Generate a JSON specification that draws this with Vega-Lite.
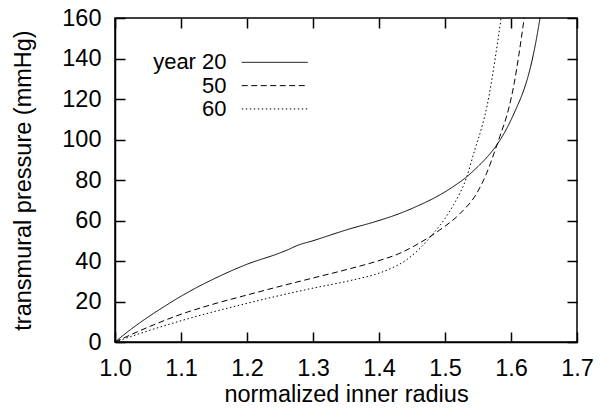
{
  "$schema": "https://vega.github.io/schema/vega-lite/v6.json",
  "width": 462,
  "height": 324,
  "autosize": {"type": "none"},
  "padding": {"left": 115, "top": 18, "right": 25, "bottom": 77},
  "background": "white",
  "config": {
    "view": {"stroke": "black", "strokeWidth": 1.5},
    "font": "Liberation Sans",
    "axis": {
      "grid": false,
      "domainColor": "black",
      "domainWidth": 1.5,
      "tickColor": "black",
      "tickWidth": 1.5,
      "tickSize": -10,
      "labelFlush": false,
      "labelOverlap": false,
      "labelFont": "Liberation Sans",
      "labelFontSize": 23.5,
      "labelColor": "black",
      "titleFont": "Liberation Sans",
      "titleFontSize": 23.5,
      "titleFontWeight": "normal",
      "titleColor": "black"
    }
  },
  "datasets": {
    "curves": [
      {"r": 1.0, "p": 0, "series": "20"},
      {"r": 1.025, "p": 6.5, "series": "20"},
      {"r": 1.05, "p": 12.3, "series": "20"},
      {"r": 1.075, "p": 17.6, "series": "20"},
      {"r": 1.1, "p": 22.6, "series": "20"},
      {"r": 1.15, "p": 31.2, "series": "20"},
      {"r": 1.2, "p": 38.4, "series": "20"},
      {"r": 1.25, "p": 44, "series": "20"},
      {"r": 1.265, "p": 46, "series": "20"},
      {"r": 1.275, "p": 47.5, "series": "20"},
      {"r": 1.3, "p": 50, "series": "20"},
      {"r": 1.35, "p": 55.3, "series": "20"},
      {"r": 1.4, "p": 60, "series": "20"},
      {"r": 1.43, "p": 63.3, "series": "20"},
      {"r": 1.462, "p": 67.7, "series": "20"},
      {"r": 1.492, "p": 72.6, "series": "20"},
      {"r": 1.515, "p": 77.3, "series": "20"},
      {"r": 1.533, "p": 81.6, "series": "20"},
      {"r": 1.55, "p": 86.7, "series": "20"},
      {"r": 1.567, "p": 92.5, "series": "20"},
      {"r": 1.583, "p": 99.5, "series": "20"},
      {"r": 1.596, "p": 107, "series": "20"},
      {"r": 1.608, "p": 115.4, "series": "20"},
      {"r": 1.62, "p": 125, "series": "20"},
      {"r": 1.629, "p": 135, "series": "20"},
      {"r": 1.637, "p": 147, "series": "20"},
      {"r": 1.644, "p": 160, "series": "20"},

      {"r": 1.0, "p": 0, "series": "50"},
      {"r": 1.05, "p": 7.3, "series": "50"},
      {"r": 1.1, "p": 13.7, "series": "50"},
      {"r": 1.15, "p": 18.8, "series": "50"},
      {"r": 1.2, "p": 23.2, "series": "50"},
      {"r": 1.25, "p": 27.5, "series": "50"},
      {"r": 1.3, "p": 31.6, "series": "50"},
      {"r": 1.356, "p": 36.2, "series": "50"},
      {"r": 1.4, "p": 40.2, "series": "50"},
      {"r": 1.43, "p": 43.6, "series": "50"},
      {"r": 1.462, "p": 49, "series": "50"},
      {"r": 1.492, "p": 55.3, "series": "50"},
      {"r": 1.523, "p": 63.5, "series": "50"},
      {"r": 1.548, "p": 73.4, "series": "50"},
      {"r": 1.563, "p": 83.3, "series": "50"},
      {"r": 1.576, "p": 94.8, "series": "50"},
      {"r": 1.583, "p": 101.4, "series": "50"},
      {"r": 1.596, "p": 114.6, "series": "50"},
      {"r": 1.605, "p": 128, "series": "50"},
      {"r": 1.612, "p": 142, "series": "50"},
      {"r": 1.62, "p": 160, "series": "50"},

      {"r": 1.0, "p": 0, "series": "60"},
      {"r": 1.05, "p": 5.5, "series": "60"},
      {"r": 1.1, "p": 10.5, "series": "60"},
      {"r": 1.15, "p": 15, "series": "60"},
      {"r": 1.2, "p": 19.1, "series": "60"},
      {"r": 1.25, "p": 23, "series": "60"},
      {"r": 1.3, "p": 26.6, "series": "60"},
      {"r": 1.356, "p": 30.3, "series": "60"},
      {"r": 1.4, "p": 34, "series": "60"},
      {"r": 1.42, "p": 36.6, "series": "60"},
      {"r": 1.44, "p": 40.2, "series": "60"},
      {"r": 1.462, "p": 46.2, "series": "60"},
      {"r": 1.482, "p": 53.5, "series": "60"},
      {"r": 1.5, "p": 61, "series": "60"},
      {"r": 1.513, "p": 67.8, "series": "60"},
      {"r": 1.533, "p": 81.6, "series": "60"},
      {"r": 1.545, "p": 94.8, "series": "60"},
      {"r": 1.556, "p": 106.3, "series": "60"},
      {"r": 1.564, "p": 117, "series": "60"},
      {"r": 1.576, "p": 140, "series": "60"},
      {"r": 1.585, "p": 160, "series": "60"}
    ],
    "legend": [
      {"label": "year 20", "series": "20", "lx": 1.169, "sx1": 1.192, "sx2": 1.292, "ly": 138.1},
      {"label": "50", "series": "50", "lx": 1.169, "sx1": 1.192, "sx2": 1.292, "ly": 126.6},
      {"label": "60", "series": "60", "lx": 1.169, "sx1": 1.192, "sx2": 1.292, "ly": 115.1}
    ]
  },
  "resolve": {"axis": {"x": "independent", "y": "independent"}},
  "layer": [
    {
      "data": {"name": "curves"},
      "mark": {"type": "line", "clip": true, "strokeWidth": 1, "color": "black", "interpolate": "monotone"},
      "encoding": {
        "x": {
          "field": "r", "type": "quantitative",
          "scale": {"domain": [1.0, 1.7], "nice": false, "zero": false},
          "axis": {"orient": "bottom", "values": [1.0, 1.1, 1.2, 1.3, 1.4, 1.5, 1.6, 1.7], "format": ".1f", "labelPadding": 24, "title": "normalized inner radius", "titlePadding": 3}
        },
        "y": {
          "field": "p", "type": "quantitative",
          "scale": {"domain": [0, 160], "nice": false},
          "axis": {"orient": "left", "values": [0, 20, 40, 60, 80, 100, 120, 140, 160], "labelPadding": 24, "title": "transmural pressure (mmHg)", "titlePadding": 26}
        },
        "detail": {"field": "series"},
        "strokeDash": {
          "field": "series", "type": "nominal",
          "scale": {"domain": ["20", "50", "60"], "range": [[1, 0], [6, 3.5], [1.5, 2.5]]},
          "legend": null
        }
      }
    },
    {
      "data": {"name": "legend"},
      "mark": {"type": "rule", "strokeWidth": 1, "color": "black"},
      "encoding": {
        "x": {
          "field": "sx1", "type": "quantitative",
          "axis": {"orient": "top", "values": [1.0, 1.1, 1.2, 1.3, 1.4, 1.5, 1.6, 1.7], "labels": false, "domain": false, "title": null}
        },
        "x2": {"field": "sx2"},
        "y": {
          "field": "ly", "type": "quantitative",
          "axis": {"orient": "right", "values": [0, 20, 40, 60, 80, 100, 120, 140, 160], "labels": false, "domain": false, "title": null}
        },
        "strokeDash": {"field": "series", "type": "nominal", "legend": null}
      }
    },
    {
      "data": {"name": "legend"},
      "mark": {"type": "text", "align": "right", "baseline": "middle", "fontSize": 22, "font": "Liberation Sans", "color": "black"},
      "encoding": {
        "x": {"field": "lx", "type": "quantitative", "axis": null},
        "y": {"field": "ly", "type": "quantitative", "axis": null},
        "text": {"field": "label"}
      }
    }
  ]
}
